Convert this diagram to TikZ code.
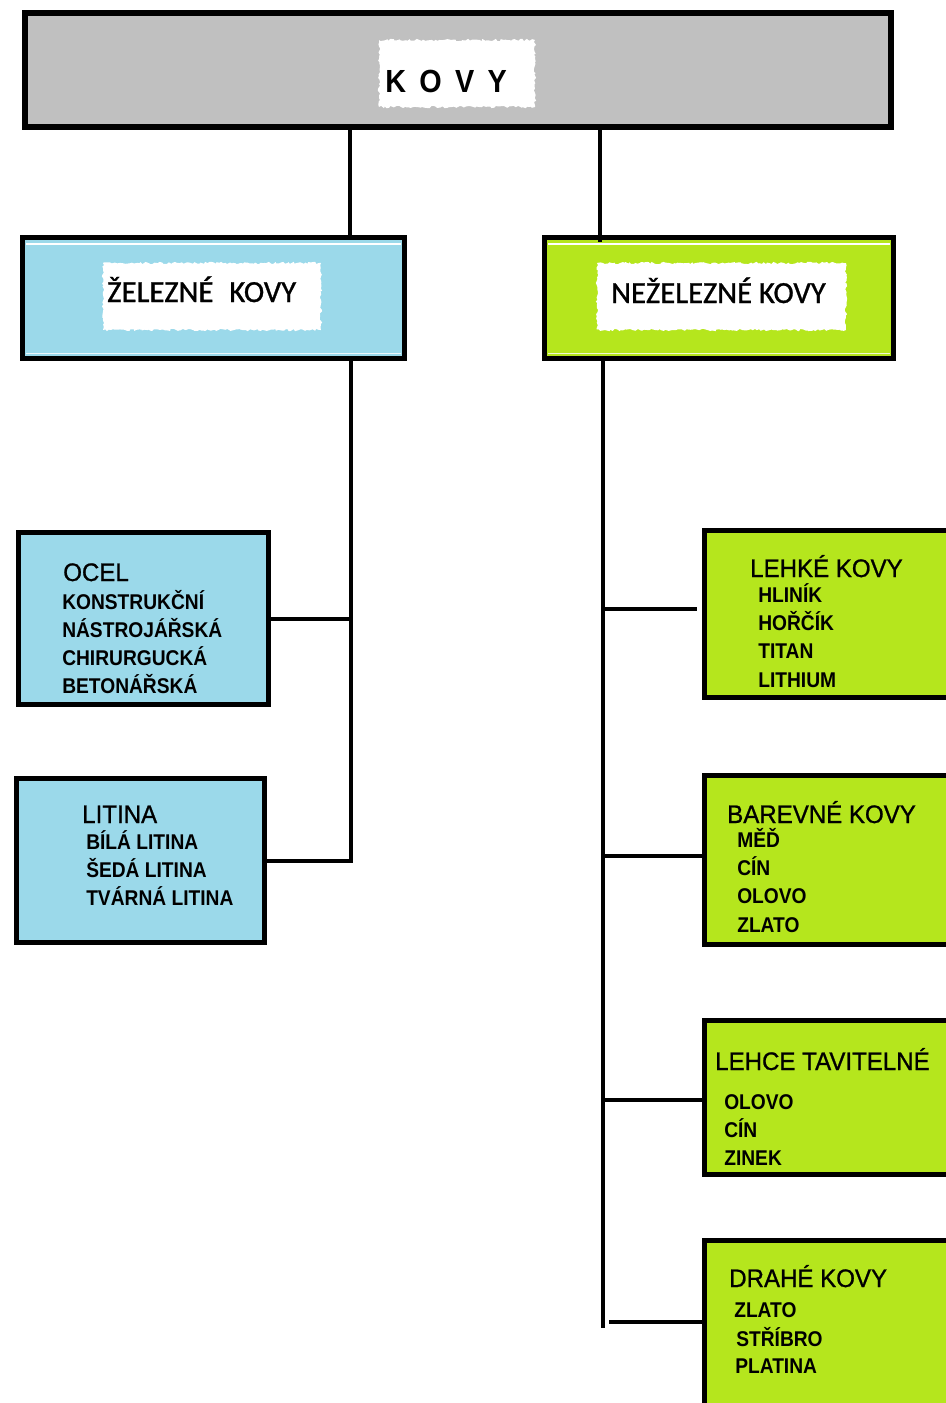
\documentclass[tikz,border=0pt]{standalone}
\usepackage{fontspec}
\setmainfont{Liberation Sans}
\newfontfamily\titlefont[FakeStretch=0.95,FakeBold=0.9]{Liberation Sans}
\newfontfamily\itemfont[FakeStretch=0.9]{Liberation Sans}
\newfontfamily\calib[FakeBold=0.9]{Carlito}
\newfontfamily\kovyfont[FakeStretch=0.9]{Liberation Sans}
\usetikzlibrary{fit,decorations.pathmorphing}
\definecolor{kgray}{RGB}{192,192,192}
\definecolor{kblue}{RGB}{155,217,234}
\definecolor{kgreen}{RGB}{181,230,29}
\tikzset{
  box/.style={draw=black, line width=4pt, inner sep=0pt, rectangle},
  conn/.style={draw=black, line width=3pt},
  patch/.style={fill=white, decorate, decoration={random steps, segment length=1.5pt, amplitude=0.9pt}},
  ttl/.style={anchor=base west, inner sep=0pt, font=\titlefont\fontsize{19}{19}\selectfont},
  itm/.style={anchor=base west, inner sep=0pt, font=\itemfont\bfseries\fontsize{16}{16}\selectfont},
  top/.style={anchor=base west, inner sep=0pt, font=\calib\fontsize{23}{23}\selectfont},
}
\begin{document}
\begin{tikzpicture}[x=0.75pt,y=-0.75pt]
\pgfmathsetseed{7}
\useasboundingbox (0,0) rectangle (946,1403);
\clip (0,0) rectangle (946,1403);
\fill[white] (0,0) rectangle (946,1403);
% top box
\node[box, fill=kgray, fit={(25,13) (891,127)}] (kovy) {};
\fill[patch] (379,40) rectangle (535,107);
\node[anchor=base west, inner sep=0pt, font=\kovyfont\bfseries\fontsize{24}{24}\selectfont] (kovyt) at (385,92) {K\kern10pt O\kern10pt V\kern10pt Y};
% second level
\node[box, fill=kblue, fit={(22.5,237.5) (404.5,358.5)}] (zel) {};
\node[box, fill=kgreen, fit={(544.5,237.5) (893.5,358.5)}] (nez) {};
\draw[white, line width=0.8pt] (26,244) -- (401,244);
\draw[white, line width=0.8pt] (548,244) -- (890,244);
\draw[white!80!kblue, line width=0.6pt] (26,353) -- (401,353);
\draw[white!80!kgreen, line width=0.6pt] (548,353) -- (890,353);
\fill[patch] (103,263) rectangle (321,330);
\fill[patch] (597,263) rectangle (846,330);
\node[top] (zelt) at (107,302) {ŽELEZNÉ\hspace{12pt}KOVY};
\node[top] (nezt) at (611,303) {NEŽELEZNÉ KOVY};
% left boxes
\node[box, fill=kblue, fit={(18.5,532.5) (268.5,704.5)}] (ocel) {};
\node[box, fill=kblue, fit={(16.5,778.5) (264.5,942.5)}] (litina) {};
\node[ttl] (ocelt) at (63,581) {OCEL};
\node[itm] (o1) at (62,609) {KONSTRUKČNÍ};
\node[itm] (o2) at (62,637) {NÁSTROJÁŘSKÁ};
\node[itm] (o3) at (62,665) {CHIRURGUCKÁ};
\node[itm] (o4) at (62,693) {BETONÁŘSKÁ};
\node[ttl] (litt) at (82,823) {LITINA};
\node[itm] (l1) at (86,849) {BÍLÁ LITINA};
\node[itm] (l2) at (86,877) {ŠEDÁ LITINA};
\node[itm] (l3) at (86,905) {TVÁRNÁ LITINA};
% right boxes
\node[box, fill=kgreen, fit={(704.5,530.5) (1000,697.5)}] (lehke) {};
\node[box, fill=kgreen, fit={(704.5,775.5) (1000,944.5)}] (barevne) {};
\node[box, fill=kgreen, fit={(704.5,1020.5) (1000,1174.5)}] (lehce) {};
\node[box, fill=kgreen, fit={(704.5,1240.5) (1000,1460)}] (drahe) {};
\node[ttl] (lehket) at (750,577) {LEHKÉ KOVY};
\node[itm] (a1) at (758,602) {HLINÍK};
\node[itm] (a2) at (758,630) {HOŘČÍK};
\node[itm] (a3) at (758,658) {TITAN};
\node[itm] (a4) at (758,687) {LITHIUM};
\node[ttl] (barevnet) at (727,823) {BAREVNÉ KOVY};
\node[itm] (b1) at (737,847) {MĚĎ};
\node[itm] (b2) at (737,875) {CÍN};
\node[itm] (b3) at (737,903) {OLOVO};
\node[itm] (b4) at (737,932) {ZLATO};
\node[ttl] (lehcet) at (715,1070) {LEHCE TAVITELNÉ};
\node[itm] (c1) at (724,1109) {OLOVO};
\node[itm] (c2) at (724,1137) {CÍN};
\node[itm] (c3) at (724,1165) {ZINEK};
\node[ttl] (drahet) at (729,1287) {DRAHÉ KOVY};
\node[itm] (d1) at (734,1317) {ZLATO};
\node[itm] (d2) at (736,1346) {STŘÍBRO};
\node[itm] (d3) at (735,1373) {PLATINA};
% connectors
\coordinate (lsp) at (351,0);
\coordinate (rsp) at (603,0);
\coordinate (rend) at (603,1328);
\draw[conn] (kovy.south -| 350,0) -- (zel.north -| 350,0);
\draw[conn] (kovy.south -| 600,0) -- (600,242);
\draw[conn] (zel.south -| lsp) |- (litina.east);
\draw[conn] (ocel.east) -- (ocel.east -| lsp);
\draw[conn] (nez.south -| rsp) -- (rend);
\draw[conn, shorten >=4pt] (rsp |- 0,609) -- (lehke.west |- 0,609);
\draw[conn] (rsp |- 0,856) -- (barevne.west |- 0,856);
\draw[conn] (rsp |- 0,1100) -- (lehce.west |- 0,1100);
\draw[conn] (609,1322) -- (drahe.west |- 0,1322);
\end{tikzpicture}
\end{document}
